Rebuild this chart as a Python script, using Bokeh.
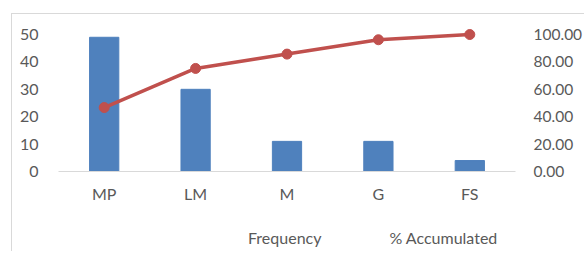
from bokeh.plotting import figure
from bokeh.layouts import column
from bokeh.models import Range1d, LinearAxis, FixedTicker, Legend, LegendItem, NumeralTickFormatter
from bokeh.embed import file_html
from bokeh.resources import INLINE

categories = ["MP", "LM", "M", "G", "FS"]
frequency = [49, 30, 11, 11, 4]
accumulated = [46.67, 75.24, 85.71, 96.19, 100.00]
left_ticks = [0, 10, 20, 30, 40, 50]
right_ticks = [0, 20, 40, 60, 80, 100]
series_names = ["Frequency", "% Accumulated"]

FONT = "Lato"
TXT = "#595959"
BLUE = "#4F81BD"
RED = "#C0504D"

p = figure(x_range=categories, y_range=Range1d(0, 52.2), frame_width=457, frame_height=143,
           output_backend="svg", toolbar_location=None,
           min_border_left=46, min_border_right=68, min_border_top=14, min_border_bottom=30)
p.extra_y_ranges = {"pct": Range1d(0, 104.4)}

bars = p.vbar(x=categories, top=frequency, width=0.32, fill_color=BLUE, line_color=BLUE)
line = p.line(categories, accumulated, y_range_name="pct", line_color=RED, line_width=3.5)
pts = p.scatter(categories, accumulated, y_range_name="pct", size=10, fill_color=RED, line_color=RED)

p.xgrid.visible = False
p.ygrid.visible = False
p.outline_line_color = None

p.xaxis.axis_line_color = "#D9D9D9"
p.xaxis.major_tick_line_color = None
p.xaxis.minor_tick_line_color = None
p.xaxis.major_label_standoff = 6
p.xaxis.major_label_text_font = FONT
p.xaxis.major_label_text_font_size = "16px"
p.xaxis.major_label_text_color = TXT

p.yaxis.ticker = FixedTicker(ticks=left_ticks)
p.yaxis.axis_line_color = None
p.yaxis.major_tick_line_color = None
p.yaxis.minor_tick_line_color = None
p.yaxis.major_label_standoff = 14
p.yaxis.major_label_text_font = FONT
p.yaxis.major_label_text_font_size = "16px"
p.yaxis.major_label_text_color = TXT

ax2 = LinearAxis(y_range_name="pct", ticker=FixedTicker(ticks=right_ticks),
                 formatter=NumeralTickFormatter(format="0.00"))
ax2.axis_line_color = None
ax2.major_tick_line_color = None
ax2.minor_tick_line_color = None
ax2.major_label_standoff = 12
ax2.major_label_text_font = FONT
ax2.major_label_text_font_size = "15.5px"
ax2.major_label_text_color = TXT
p.add_layout(ax2, "right")

# legend strip below the chart
p2 = figure(width=571, height=46, x_range=Range1d(0, 1), y_range=Range1d(0, 1),
            x_axis_type=None, y_axis_type=None, output_backend="svg", toolbar_location=None,
            min_border=0)
p2.outline_line_color = None
p2.title.visible = False
lb = p2.vbar(x=[], top=[], width=0.3, fill_color=BLUE, line_color=BLUE)
ll = p2.line(x=[], y=[], line_color=RED, line_width=3.5)
lp = p2.scatter(x=[], y=[], size=10, fill_color=RED, line_color=RED)

legend = Legend(items=[LegendItem(label=series_names[0], renderers=[lb]),
                       LegendItem(label=series_names[1], renderers=[ll, lp])],
                orientation="horizontal", location=(146, 4),
                glyph_width=40, glyph_height=10, label_standoff=4, spacing=24,
                padding=0, margin=0, border_line_color=None, background_fill_alpha=0,
                label_text_font=FONT, label_text_font_size="16px", label_text_color=TXT)
p2.add_layout(legend, "center")

layout = column(p, p2, spacing=0)
layout.margin = (13, 0, 0, 11)
layout.styles = {"border-left": "1px solid #D9D9D9", "border-top": "1px solid #D9D9D9"}

open("out.html", "w").write(file_html(layout, INLINE))
